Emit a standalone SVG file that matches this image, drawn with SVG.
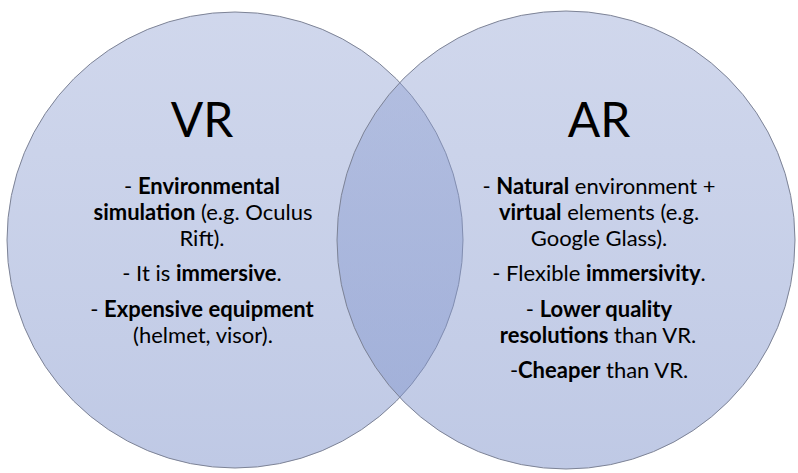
<svg xmlns="http://www.w3.org/2000/svg" width="798" height="473" viewBox="0 0 798 473">
  <style>
    .set { stroke: #7d8396; stroke-width: 1; fill: url(#setFill); }
    .title { font-family: Lato, "Open Sans", "Liberation Sans", sans-serif; font-size: 48px; fill: #000; text-anchor: middle; }
    .body { font-family: Lato, "Open Sans", "Liberation Sans", sans-serif; font-size: 22px; fill: #000; text-anchor: middle; }
    .b { font-weight: bold; }
  </style>
  <defs>
    <linearGradient id="setFill" x1="0" y1="0" x2="0" y2="1">
      <stop offset="0" stop-color="#8fa0d2" stop-opacity="0.42"/>
      <stop offset="1" stop-color="#7f93cb" stop-opacity="0.5"/>
    </linearGradient>
  </defs>
  <rect width="798" height="473" fill="#ffffff"/>

  <!-- VR set -->
  <g id="vr">
    <circle class="set" cx="235" cy="240" r="228"/>
    <text class="title" x="202" y="137">VR</text>
    <text class="body" x="202" y="194">- <tspan class="b">Environmental</tspan></text>
    <text class="body" x="203" y="220"><tspan class="b">simulation</tspan> (e.g. Oculus</text>
    <text class="body" x="202" y="246">Rift).</text>
    <text class="body" x="202" y="281">- It is <tspan class="b">immersive</tspan>.</text>
    <text class="body" x="202" y="317">- <tspan class="b">Expensive equipment</tspan></text>
    <text class="body" x="203" y="343">(helmet, visor).</text>
  </g>

  <!-- AR set -->
  <g id="ar">
    <circle class="set" cx="566" cy="240" r="229"/>
    <text class="title" x="599" y="137">AR</text>
    <text class="body" x="599" y="194">- <tspan class="b">Natural</tspan> environment +</text>
    <text class="body" x="599" y="220"><tspan class="b">virtual</tspan> elements (e.g.</text>
    <text class="body" x="599" y="246">Google Glass).</text>
    <text class="body" x="599" y="281">- Flexible <tspan class="b">immersivity</tspan>.</text>
    <text class="body" x="599" y="317">- <tspan class="b">Lower quality</tspan></text>
    <text class="body" x="598" y="343"><tspan class="b">resolutions</tspan> than VR.</text>
    <text class="body" x="599" y="378">-<tspan class="b">Cheaper</tspan> than VR.</text>
  </g>
</svg>
